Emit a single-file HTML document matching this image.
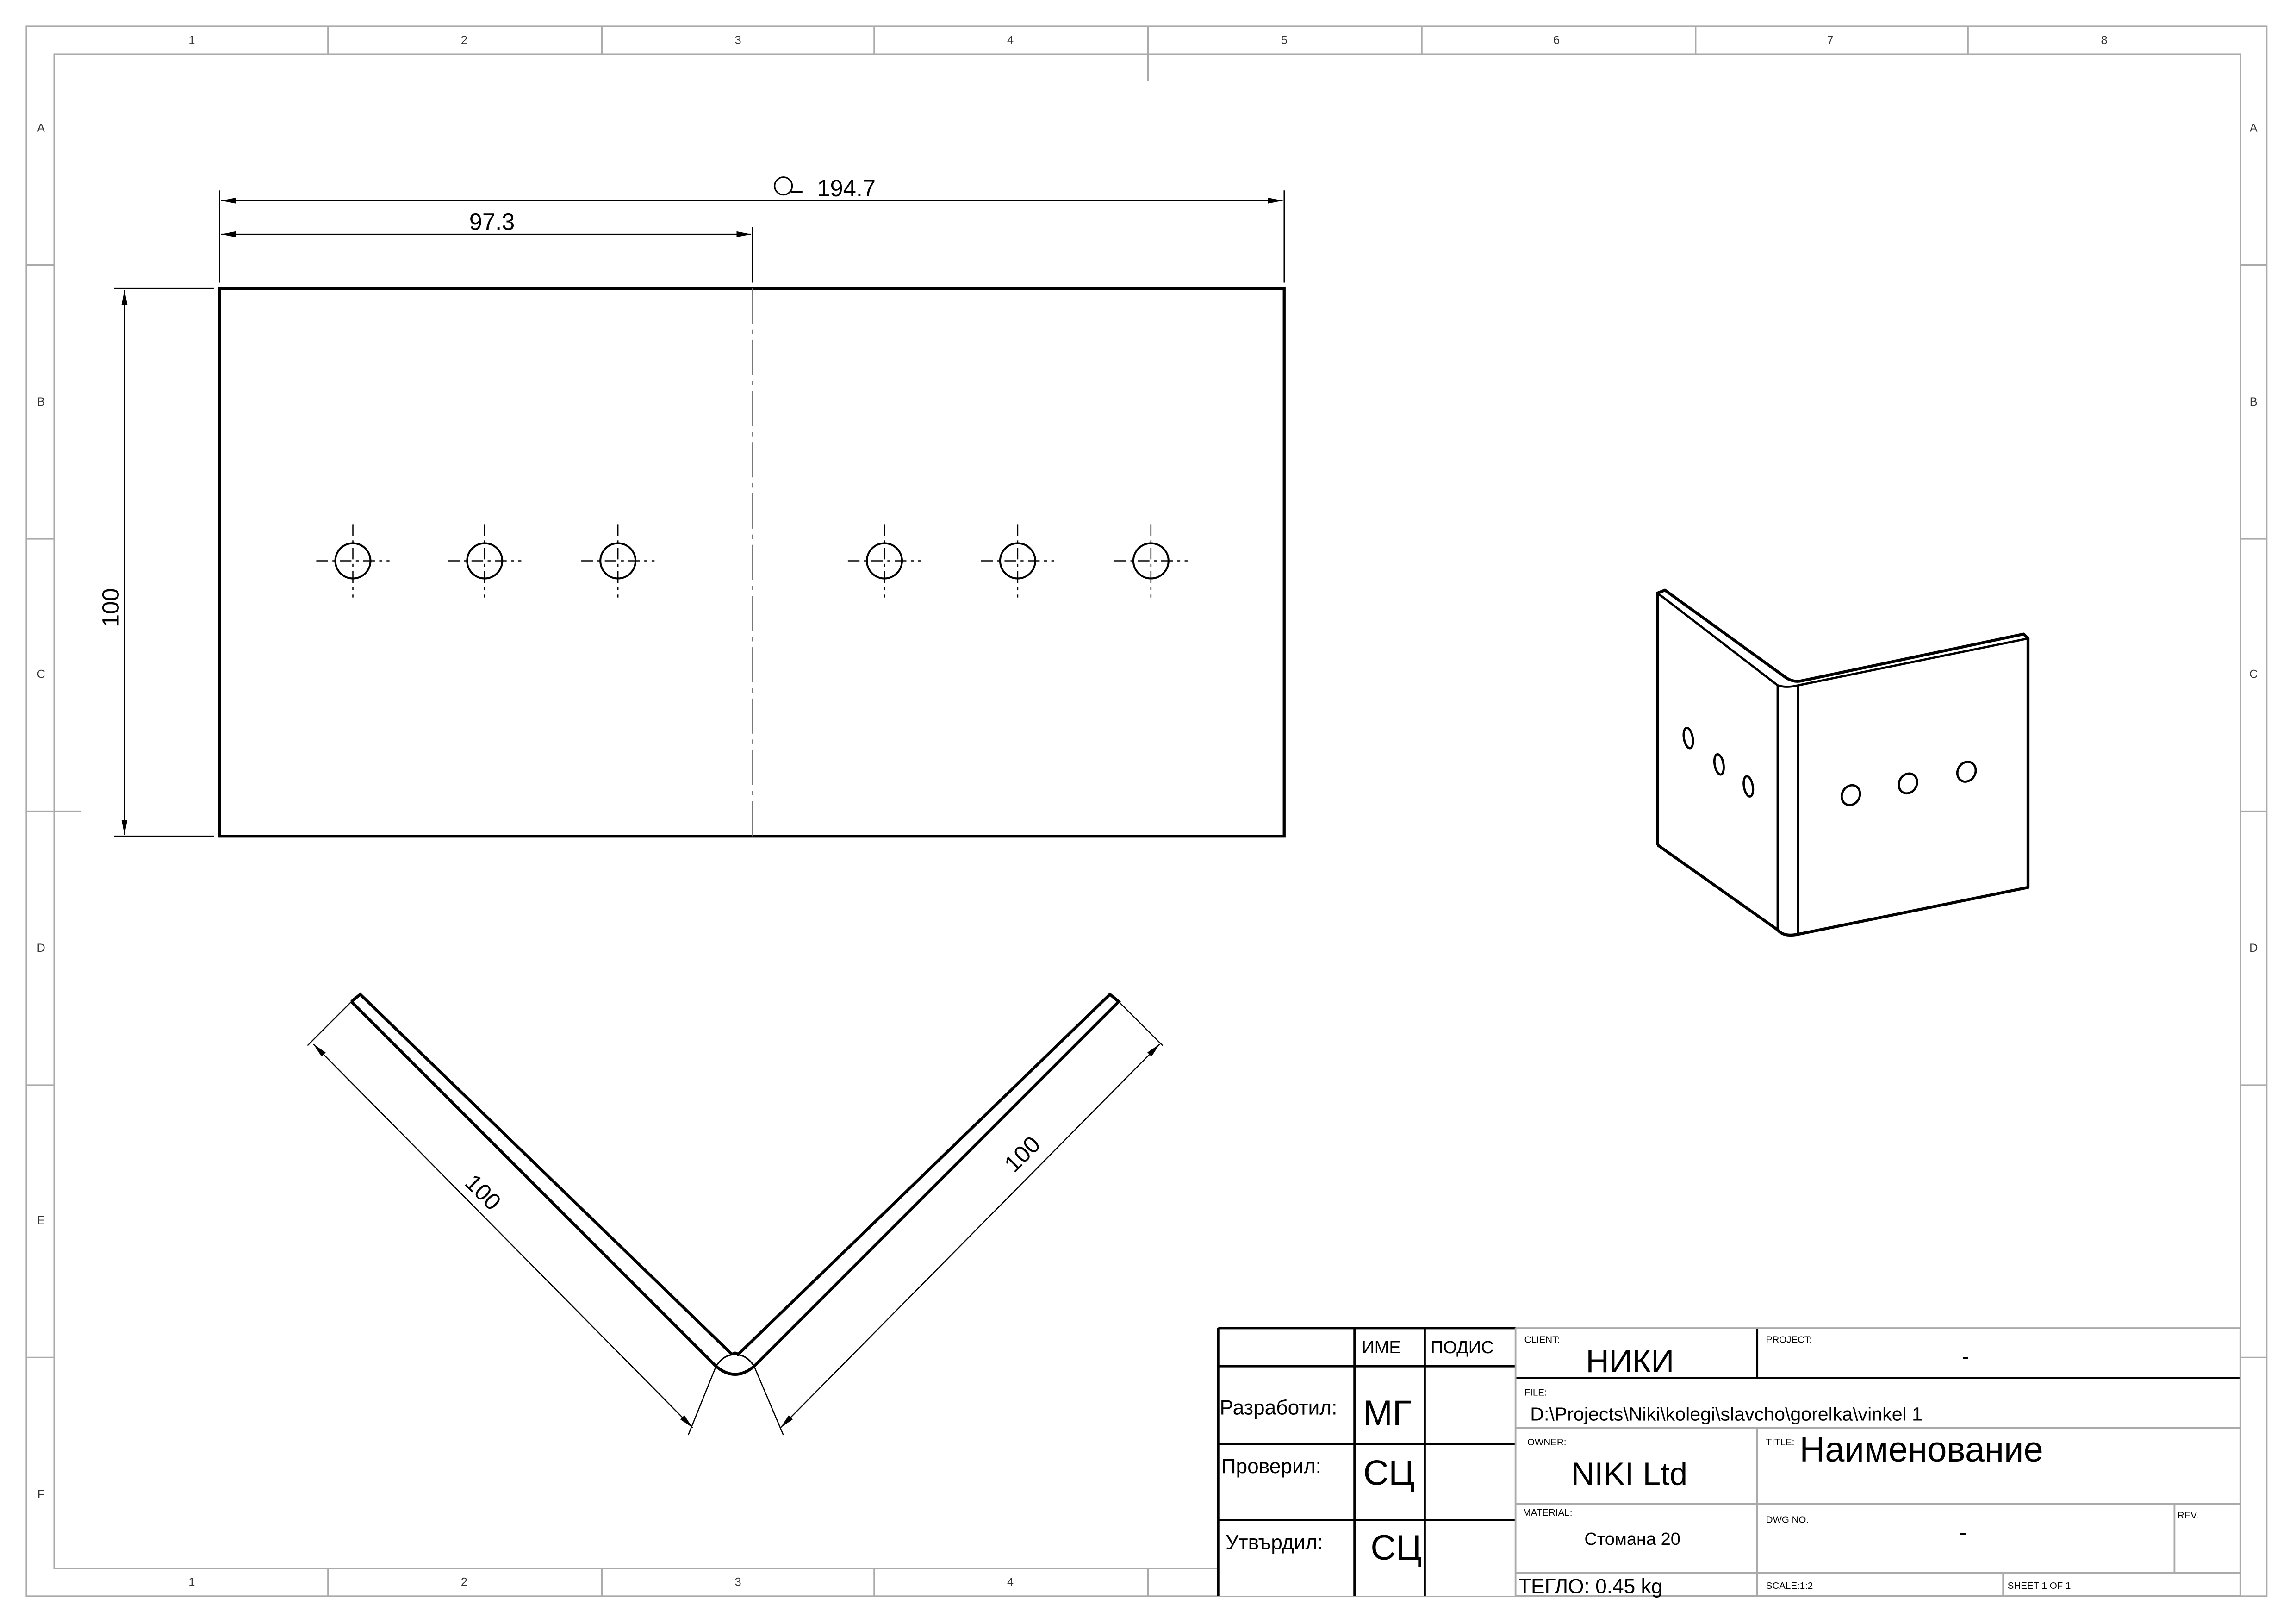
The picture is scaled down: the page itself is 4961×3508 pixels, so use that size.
<!DOCTYPE html>
<html><head><meta charset="utf-8"><style>html,body{margin:0;padding:0;background:#fff}svg{display:block}text{font-family:"Liberation Sans","DejaVu Sans",sans-serif}</style></head><body>
<svg width="4961" height="3508" viewBox="0 0 1568 1109" preserveAspectRatio="none" xmlns="http://www.w3.org/2000/svg">
<defs><marker id="a" viewBox="0 0 10 4" refX="10" refY="2" markerWidth="10" markerHeight="4" orient="auto-start-reverse" markerUnits="userSpaceOnUse"><path d="M0,0L10,2L0,4z" fill="#000"/></marker></defs>
<g fill="none" stroke="#aaa" stroke-width="1">
<rect x="18" y="18" width="1530" height="1072"/>
<rect x="37" y="37" width="1493" height="1034"/>
<path d="M224,18V37M411,18V37M597,18V37M784,18V55M971,18V37M1158,18V37M1344,18V37M224,1071V1090M411,1071V1090M597,1071V1090M784,1071V1090"/>
<path d="M18,181H37M18,368H37M18,554H55M18,741H37M18,927H37M1530,181H1548M1530,368H1548M1530,554H1548M1530,741H1548M1530,927H1548"/>
</g>
<g font-size="8" fill="#333" text-anchor="middle">
<text x="131" y="30">1</text><text x="317" y="30">2</text><text x="504" y="30">3</text><text x="690" y="30">4</text><text x="877" y="30">5</text><text x="1063" y="30">6</text><text x="1250" y="30">7</text><text x="1437" y="30">8</text>
<text x="131" y="1083">1</text><text x="317" y="1083">2</text><text x="504" y="1083">3</text><text x="690" y="1083">4</text>
<text x="28" y="90">A</text><text x="28" y="277">B</text><text x="28" y="463">C</text><text x="28" y="650">D</text><text x="28" y="836">E</text><text x="28" y="1023">F</text>
<text x="1539" y="90">A</text><text x="1539" y="277">B</text><text x="1539" y="463">C</text><text x="1539" y="650">D</text>
</g>
<!-- top view -->
<rect x="150" y="197" width="727" height="374" fill="none" stroke="#000" stroke-width="2"/>
<path d="M514,197V571" stroke="#777" stroke-width="0.8" stroke-dasharray="24,4,3,4" fill="none"/>
<g fill="none" stroke="#000">
<g stroke-width="1.3"><circle cx="241" cy="383" r="12"/><circle cx="331" cy="383" r="12"/><circle cx="422" cy="383" r="12"/><circle cx="604" cy="383" r="12"/><circle cx="695" cy="383" r="12"/><circle cx="786" cy="383" r="12"/></g>
<g stroke-width="0.8">
<path d="M241,358V408M216,383H266M331,358V408M306,383H356M422,358V408M397,383H447M604,358V408M579,383H629M695,358V408M670,383H720M786,358V408M761,383H811" stroke-dasharray="8,3,2,3"/>
<path d="M150,130V193M877,130V193M514,155V193M78,197H146M78,571H146"/>
<path d="M151,137H876" marker-start="url(#a)" marker-end="url(#a)"/>
<path d="M151,160H513" marker-start="url(#a)" marker-end="url(#a)"/>
<path d="M85,198V570" marker-start="url(#a)" marker-end="url(#a)"/>
</g></g>
<text x="336" y="157" font-size="16" text-anchor="middle">97.3</text>
<text x="578" y="134" font-size="16" text-anchor="middle">194.7</text>
<circle cx="535" cy="127" r="6" fill="none" stroke="#000"/><path d="M540,131l8,0" stroke="#000"/>
<text transform="translate(81,415) rotate(-90)" font-size="16" text-anchor="middle">100</text>
<!-- V view -->
<g fill="none" stroke="#000" stroke-width="2">
<path d="M240,684L246,679L500,925M240,684L489,933Q502,944 515,933L764,684L758,679L504,925Q502,923 500,925"/>
<path d="M489,933Q494,925 502,925Q510,925 515,933" stroke-width="1"/>
</g>
<g fill="none" stroke="#000" stroke-width="0.8">
<path d="M240,684L210,714M764,684L794,714M489,933L470,980M515,933L535,980"/>
<path d="M214,713L473,975" marker-start="url(#a)" marker-end="url(#a)"/>
<path d="M792,713L533,975" marker-start="url(#a)" marker-end="url(#a)"/>
</g>
<text transform="translate(326,818) rotate(45)" font-size="16" text-anchor="middle">100</text>
<text transform="translate(702,792) rotate(-45)" font-size="16" text-anchor="middle">100</text>
<!-- iso -->
<g fill="none" stroke="#000" stroke-width="2" stroke-linejoin="round">
<path d="M1132,577V405L1137,403L1220,463Q1225,466 1230,465L1382,433L1385,436V606L1228,638Q1218,640 1214,635L1132,577"/>
<path d="M1132,405L1214,468V635M1228,468V638M1214,468Q1220,470 1228,468L1385,436" stroke-width="1.5"/>
<g stroke-width="1.5"><ellipse cx="1153" cy="504" rx="3" ry="7" transform="rotate(-10 1153 504)"/><ellipse cx="1174" cy="522" rx="3" ry="7" transform="rotate(-10 1174 522)"/><ellipse cx="1194" cy="537" rx="3" ry="7" transform="rotate(-10 1194 537)"/>
<ellipse cx="1264" cy="543" rx="6" ry="7" transform="rotate(30 1264 543)"/><ellipse cx="1303" cy="535" rx="6" ry="7" transform="rotate(30 1303 535)"/><ellipse cx="1343" cy="527" rx="6" ry="7" transform="rotate(30 1343 527)"/></g>
</g>
<!-- title block -->
<rect x="832" y="907" width="698" height="183" fill="#fff" stroke="none"/>
<g fill="none" stroke="#000" stroke-width="1.5">
<path d="M832,907H1035M832,933H1035M832,986H1035M832,1038H1035M832,907V1090M925,907V1090M973,907V1090"/>
<path d="M1035,941H1530M1200,907V941"/>
</g>
<g fill="none" stroke="#aaa" stroke-width="1.2">
<path d="M1035,907H1530V1090H1035M1035,907V1090M1035,975H1530M1035,1027H1530M1035,1074H1530M1200,975V1090M1485,1027V1074M1368,1074V1090"/>
</g>
<g font-size="12"><text x="930" y="924">ИМЕ</text><text x="977" y="924">ПОДИС</text>
<text x="833" y="966" font-size="14">Разработил:</text><text x="834" y="1006" font-size="14">Проверил:</text><text x="837" y="1058" font-size="14">Утвърдил:</text></g>
<g font-size="24"><text x="931" y="973">МГ</text><text x="931" y="1014">СЦ</text><text x="936" y="1065">СЦ</text></g>
<g font-size="6.5"><text x="1041" y="917">CLIENT:</text><text x="1206" y="917">PROJECT:</text><text x="1041" y="953">FILE:</text><text x="1043" y="987">OWNER:</text><text x="1206" y="987">TITLE:</text><text x="1040" y="1035">MATERIAL:</text><text x="1206" y="1040">DWG NO.</text><text x="1487" y="1037">REV.</text><text x="1206" y="1085">SCALE:1:2</text><text x="1371" y="1085">SHEET 1 OF 1</text></g>
<text x="1083" y="937" font-size="22">НИКИ</text>
<text x="1340" y="931" font-size="14">-</text>
<text x="1045" y="970" font-size="13">D:\Projects\Niki\kolegi\slavcho\gorelka\vinkel 1</text>
<text x="1073" y="1014" font-size="22">NIKI Ltd</text>
<text x="1229" y="998" font-size="24">Наименование</text>
<text x="1082" y="1055" font-size="12">Стомана 20</text>
<text x="1338" y="1052" font-size="16">-</text>
<text x="1037" y="1088" font-size="14">ТЕГЛО: 0.45 kg</text>
</svg>
</body></html>
